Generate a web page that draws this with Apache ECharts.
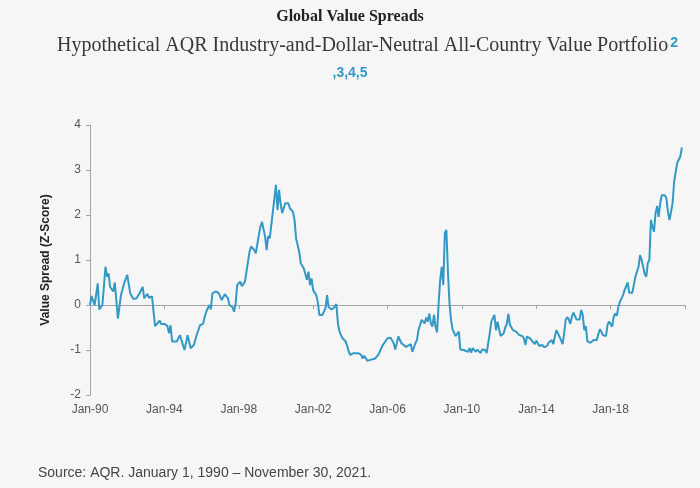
<!DOCTYPE html>
<html>
<head>
<meta charset="utf-8">
<script src="https://cdn.jsdelivr.net/npm/echarts@6/dist/echarts.min.js"></script>
<style>
html,body{margin:0;padding:0;background:#f6f6f6;}
#chart{width:700px;height:488px;}
</style>
</head>
<body>
<div id="chart"></div>
<script>
// Month (YYYY-MM) of each reading and the value spread (z-score)
const dates = [
'1990-01','1990-02','1990-04','1990-06','1990-07','1990-08','1990-09','1990-11','1990-12',
'1991-01','1991-02','1991-04','1991-05','1991-07','1991-09','1991-10','1991-11',
'1992-01','1992-03','1992-04','1992-05','1992-07','1992-09','1992-11','1992-12',
'1993-02','1993-03','1993-05','1993-06','1993-07','1993-08','1993-10','1993-11',
'1994-01','1994-03','1994-04','1994-05','1994-06','1994-09','1994-11','1994-12',
'1995-02','1995-04','1995-05','1995-06','1995-08','1995-10','1995-12',
'1996-02','1996-03','1996-04','1996-06','1996-07','1996-08','1996-10','1996-12',
'1997-02','1997-04','1997-06','1997-07','1997-09','1997-10','1997-11','1997-12',
'1998-02','1998-03','1998-05','1998-06','1998-08','1998-09','1998-11','1998-12',
'1999-02','1999-03','1999-04','1999-06','1999-07','1999-08','1999-09','1999-10','1999-11',
'2000-01','2000-02','2000-03','2000-04','2000-05','2000-07','2000-09','2000-10','2000-12',
'2001-01','2001-02','2001-04','2001-05','2001-07','2001-08','2001-09','2001-10','2001-11','2001-12',
'2002-01','2002-03','2002-04','2002-05','2002-06','2002-07','2002-09','2002-10','2002-11',
'2003-01','2003-03','2003-04','2003-05','2003-06','2003-07','2003-08','2003-10','2003-11','2003-12',
'2004-01','2004-03','2004-04','2004-06','2004-08','2004-09','2004-10','2004-12',
'2005-02','2005-03','2005-05','2005-07','2005-08','2005-10','2005-11',
'2006-01','2006-03','2006-05','2006-06','2006-07','2006-08','2006-10','2006-11',
'2007-01','2007-02','2007-04','2007-05','2007-07','2007-08','2007-09','2007-11','2007-12',
'2008-01','2008-02','2008-03','2008-04','2008-05','2008-06','2008-07','2008-08','2008-09','2008-10','2008-11','2008-12',
'2009-01','2009-02','2009-03','2009-04','2009-05','2009-06','2009-07','2009-09','2009-10','2009-11','2009-12',
'2010-02','2010-03','2010-05','2010-06','2010-07','2010-08','2010-10','2010-11',
'2011-01','2011-02','2011-04','2011-05','2011-07','2011-08','2011-10','2011-11','2011-12',
'2012-01','2012-02','2012-04','2012-05','2012-06','2012-07','2012-08','2012-10','2012-12',
'2013-01','2013-02','2013-04','2013-05','2013-06','2013-07','2013-09','2013-10','2013-12',
'2014-01','2014-02','2014-03','2014-05','2014-06','2014-08','2014-09','2014-10','2014-11','2014-12',
'2015-01','2015-02','2015-03','2015-05','2015-06','2015-07','2015-08','2015-09','2015-10','2015-11','2015-12',
'2016-01','2016-02','2016-03','2016-05','2016-06','2016-07','2016-08','2016-09','2016-10','2016-12',
'2017-02','2017-03','2017-04','2017-06','2017-07','2017-08','2017-10','2017-11','2017-12',
'2018-02','2018-03','2018-04','2018-05','2018-06','2018-07','2018-08','2018-09','2018-10','2018-11','2018-12',
'2019-01','2019-02','2019-03','2019-05','2019-06','2019-07','2019-08','2019-09','2019-10','2019-11','2019-12',
'2020-01','2020-02','2020-03','2020-04','2020-05','2020-06','2020-07','2020-08','2020-09','2020-10','2020-12',
'2021-01','2021-02','2021-03','2021-04','2021-05','2021-06','2021-07','2021-08','2021-09','2021-10','2021-11'
];
const values = [
0,0.2,0,0.48,-0.1,-0.1,0,0.85,0.63,
0.7,0.4,0.3,0.5,-0.3,0.22,0.22,0.48,
0.67,0.26,0.22,0.13,0.15,0.26,0.4,0.15,
0.25,0.16,0.19,0.17,-0.47,-0.45,-0.35,-0.42,
-0.42,-0.47,-0.63,-0.45,-0.81,-0.81,-0.67,-0.78,
-1.0,-0.67,-0.68,-0.96,-0.89,-0.65,-0.45,
-0.42,-0.26,-0.15,0,-0.1,0.26,0.3,0.27,
0.11,0.24,0.15,0,-0.05,-0.15,0.04,0.44,
0.52,0.42,0.52,0.56,1.19,1.3,1.22,1.15,
1.56,1.74,1.85,1.52,1.22,1.53,1.48,1.78,2.07,
2.67,2.11,2.56,2.26,2.04,2.26,2.26,2.15,2.07,
1.89,1.48,1.19,0.93,0.81,0.85,0.56,0.74,0.44,0.59,
0.33,0.22,0.07,-0.22,-0.2,-0.22,-0.07,0.22,-0.05,
-0.1,-0.04,0.02,-0.41,-0.59,-0.67,-0.74,-0.81,-0.91,-1.04,
-1.11,-1.07,-1.11,-1.07,-1.11,-1.19,-1.13,-1.24,
-1.22,-1.24,-1.19,-1.11,-1.07,-0.89,-0.84,
-0.74,-0.73,-0.85,-0.99,-0.85,-0.7,-0.85,-0.81,
-0.93,-0.96,-0.87,-1.04,-0.85,-0.78,-0.56,-0.33,-0.31,
-0.41,-0.28,-0.37,-0.19,-0.41,-0.48,-0.22,-0.48,-0.61,0.04,0.56,0.85,
0.44,1.6,1.67,0.74,0.04,-0.33,-0.54,-0.69,-0.67,-0.59,-0.99,
-1.0,-1.0,-1.04,-0.96,-1.06,-0.96,-1.04,-0.99,
-1.07,-0.99,-1.0,-1.07,-0.63,-0.37,-0.22,-0.56,-0.37,
-0.37,-0.69,-0.63,-0.5,-0.42,-0.2,-0.44,-0.56,-0.59,
-0.61,-0.67,-0.69,-0.74,-0.89,-0.7,-0.74,-0.78,-0.87,
-0.79,-0.76,-0.91,-0.89,-0.94,-0.91,-0.84,-0.87,-0.78,-0.87,
-0.7,-0.56,-0.63,-0.78,-0.87,-0.63,-0.33,-0.27,-0.32,-0.42,-0.26,
-0.17,-0.19,-0.32,-0.32,-0.11,-0.22,-0.56,-0.47,-0.81,-0.84,
-0.78,-0.81,-0.78,-0.54,-0.59,-0.67,-0.69,-0.44,-0.37,
-0.48,-0.26,-0.19,-0.24,-0.04,0.07,0.1,0.22,0.33,0.32,0.5,
0.27,0.3,0.27,0.63,0.67,0.85,1.11,1.0,0.85,0.69,0.63,
0.93,1.0,1.89,1.74,1.63,2.04,2.2,1.96,2.26,2.44,2.44,
2.37,2.07,1.89,2.07,2.27,2.74,2.96,3.16,3.15,3.3,3.5
];
const xTickLabels = ['Jan-90','Jan-94','Jan-98','Jan-02','Jan-06','Jan-10','Jan-14','Jan-18'];
const yTicks = [-2, -1, 0, 1, 2, 3, 4];

const toYear = s => { const p = s.split('-'); return +p[0] + (+p[1] - 1) / 12; };
const seriesData = dates.map((d, i) => [toYear(d), values[i]]);

const teal = '#3399c4';
const axisGrey = '#a3a3a3';
const chart = echarts.init(document.getElementById('chart'));
const xBase = {
  type: 'value', min: 1990, max: 2022, interval: 4,
  splitLine: { show: false }
};
chart.setOption({
  backgroundColor: '#f6f6f6',
  animation: false,
  grid: { left: 90, right: 15, top: 125, bottom: 93 },
  graphic: [
    { type: 'text', left: 'center', top: 9,
      style: { text: 'Global Value Spreads', font: '600 16px "Liberation Serif", serif', fill: '#222' } },
    { type: 'text', left: 57, top: 36,
      style: {
        text: '{a|Hypothetical AQR Industry-and-Dollar-Neutral All-Country Value Portfolio}{s|2}',
        rich: {
          a: { fontFamily: '"Liberation Serif", serif', fontSize: 20, fill: '#383838' },
          s: { fontFamily: '"Liberation Sans", Arial, sans-serif', fontSize: 14, fontWeight: 'bold', fill: teal, verticalAlign: 'top', padding: [0, 0, 0, 2] }
        }
      } },
    { type: 'text', left: 'center', top: 66,
      style: { text: ',3,4,5', font: 'bold 14px "Liberation Sans", Arial, sans-serif', fill: teal } },
    { type: 'text', left: 38, top: 466,
      style: { text: 'Source: AQR. January 1, 1990 \u2013 November 30, 2021.', font: '14px "Liberation Sans", Arial, sans-serif', fill: '#444' } }
  ],
  xAxis: [
    Object.assign({}, xBase, {
      position: 'bottom',
      axisLine: { show: false, onZero: false },
      axisTick: { show: false },
      axisLabel: {
        margin: 9, color: '#555', fontSize: 12, fontFamily: '"Liberation Sans", Arial, sans-serif',
        formatter: v => { const i = Math.round((v - 1990) / 4); return (Math.abs(v - (1990 + 4 * i)) < 1e-6 && xTickLabels[i]) ? xTickLabels[i] : ''; }
      }
    }),
    Object.assign({}, xBase, {
      position: 'bottom',
      axisLine: { show: true, onZero: true, lineStyle: { color: axisGrey, width: 1 } },
      axisTick: { show: true, length: 4, lineStyle: { color: axisGrey } },
      axisLabel: { show: false }
    })
  ],
  yAxis: {
    type: 'value', min: yTicks[0], max: yTicks[yTicks.length - 1], interval: 1,
    name: 'Value Spread (Z-Score)', nameLocation: 'middle', nameGap: 38,
    nameTextStyle: { fontSize: 12, fontWeight: 'bold', color: '#222', fontFamily: '"Liberation Sans", Arial, sans-serif' },
    axisLine: { show: true, onZero: false, lineStyle: { color: axisGrey } },
    axisTick: { show: true, length: 4, lineStyle: { color: axisGrey } },
    splitLine: { show: false },
    axisLabel: { margin: 9, color: '#555', fontSize: 12, fontFamily: '"Liberation Sans", Arial, sans-serif' }
  },
  series: [{
    type: 'line', xAxisIndex: 0, data: seriesData,
    showSymbol: false, symbol: 'none',
    lineStyle: { color: teal, width: 2 },
    z: 3
  }]
});
</script>
</body>
</html>
